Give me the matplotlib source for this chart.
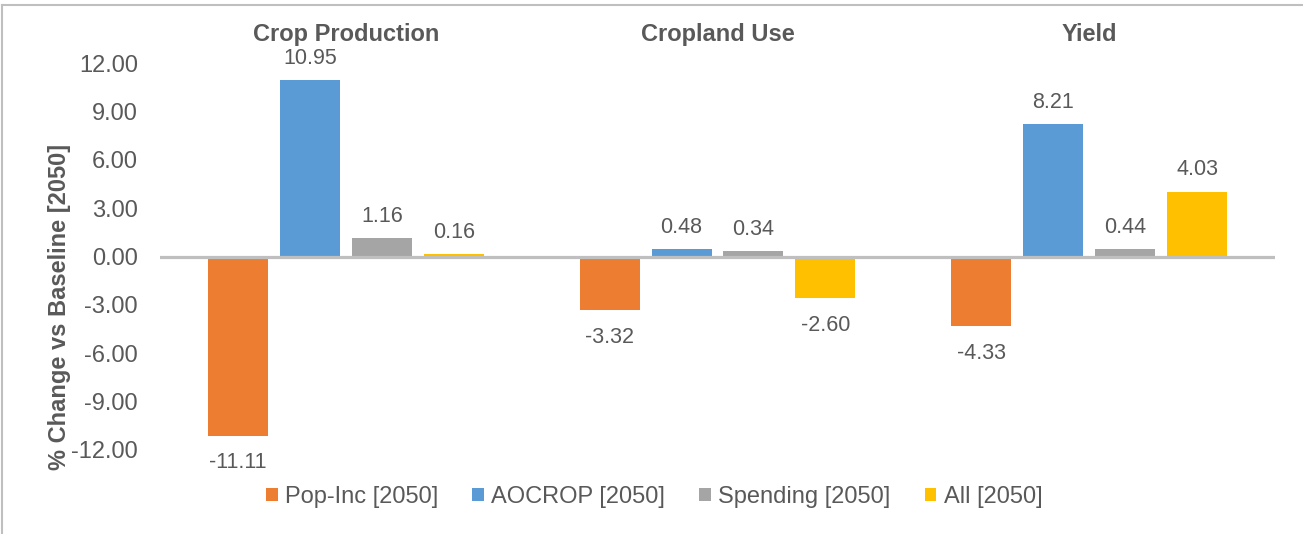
import numpy as np
import matplotlib
matplotlib.use("Agg")
import matplotlib.pyplot as plt
from matplotlib.lines import Line2D

# ── Data ─────────────────────────────────────────────────────────────────────
CATEGORIES = ["Crop Production", "Cropland Use", "Yield"]
SERIES     = ["Pop-Inc [2050]", "AOCROP [2050]", "Spending [2050]", "All [2050]"]
POP_INC    = [-11.11, -3.32, -4.33]
AOCROP     = [10.95, 0.48, 8.21]
SPENDING   = [1.16, 0.34, 0.44]
ALL        = [0.16, -2.60, 4.03]
Y_TICKS    = [-12, -9, -6, -3, 0, 3, 6, 9, 12]

COLORS = ["#ED7D31", "#5B9BD5", "#A5A5A5", "#FFC000"]
TEXT   = "#595959"
W, H   = 1303, 534

plt.rcParams["font.family"] = ["Liberation Sans", "DejaVu Sans"]

fig = plt.figure(figsize=(W / 100, H / 100), dpi=100)
ax = fig.add_axes([160 / W, 1 - 450 / H, 1115 / W, 387 / H])

x = np.arange(len(CATEGORIES))
slot = 72 / 372
width = 60 / 372
values = [POP_INC, AOCROP, SPENDING, ALL]

for i, (name, vals, col) in enumerate(zip(SERIES, values, COLORS)):
    pos = x + (i - 1.5) * slot
    bars = ax.bar(pos, vals, width=width, color=col, label=name, zorder=2)
    for b, v in zip(bars, vals):
        off = 8 if v >= 0 else -12
        va = "bottom" if v >= 0 else "top"
        ax.annotate(f"{v:.2f}", (b.get_x() + b.get_width() / 2, v),
                    xytext=(0, off), textcoords="offset points",
                    ha="center", va=va, fontsize=15.5, color=TEXT)

ax.axhline(0, color="#BFBFBF", lw=2.3, zorder=3)

ax.set_xlim(-0.5, len(CATEGORIES) - 0.5)
ax.set_ylim(-12, 12)
ax.set_yticks(Y_TICKS)
ax.set_yticklabels([f"{t:.2f}" for t in Y_TICKS], fontsize=17, color=TEXT)

ax.xaxis.tick_top()
ax.set_xticks(x)
ax.set_xticklabels(CATEGORIES, fontsize=17, fontweight="bold", color=TEXT)
ax.tick_params(axis="x", length=0, pad=12)
ax.tick_params(axis="y", length=0, pad=16)

ax.set_ylabel("% Change vs Baseline [2050]", fontsize=17, fontweight="bold",
              color=TEXT)
ax.yaxis.set_label_coords((71 - 160) / 1115, 1 - (306.5 - 63) / 387)

for s in ax.spines.values():
    s.set_visible(False)

ax.legend(loc="center", bbox_to_anchor=(654 / W, 1 - 497 / H),
          bbox_transform=fig.transFigure, ncol=4, frameon=False,
          fontsize=17, labelcolor=TEXT, handlelength=0.5, handleheight=0.5,
          handletextpad=0.3, columnspacing=1.45)

# chart border (top and left visible in the reference)
fig.add_artist(Line2D([2 / W, 1], [1 - 5 / H, 1 - 5 / H],
                      transform=fig.transFigure, color="#BFBFBF", lw=1.5))
fig.add_artist(Line2D([2 / W, 2 / W], [0, 1 - 5 / H],
                      transform=fig.transFigure, color="#BFBFBF", lw=1.5))

fig.savefig("out.png", dpi=100)
